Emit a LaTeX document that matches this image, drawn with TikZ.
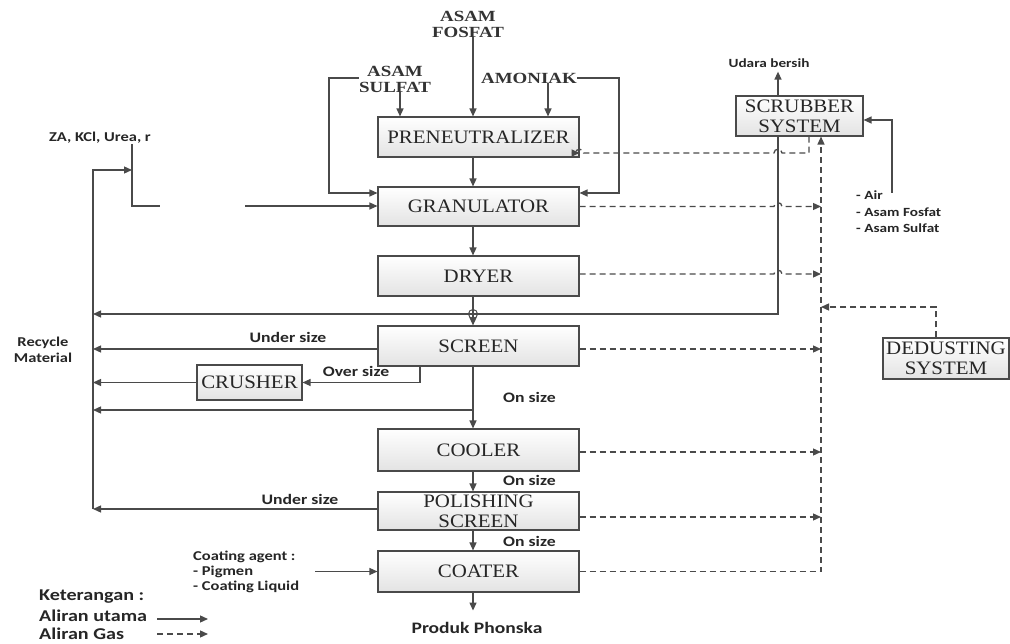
\documentclass[tikz,border=0pt]{standalone}
\usepackage{fontspec}
\setmainfont{Liberation Serif}
\newfontfamily\boxf[FakeStretch=1.1]{Liberation Serif}
\newfontfamily\lblf[FakeStretch=1.22]{Carlito}
\newfontfamily\hdrf[FakeStretch=1.22]{Liberation Serif}
\usetikzlibrary{arrows.meta}
\definecolor{ln}{HTML}{4A4A4A}
\tikzset{
 box/.style={draw=ln, line width=1.1pt, top color=white, bottom color=gray!22, minimum width=201pt, inner sep=0pt, align=center, text=black!85, font=\boxf\fontsize{19}{20}\selectfont},
 flow/.style={draw=ln, line width=1.3pt, -{Triangle[length=8pt,width=7pt]}},
 plain/.style={draw=ln, line width=1.3pt},
 gas/.style={draw=ln, line width=1.3pt, dash pattern=on 6pt off 4pt, -{Triangle[length=8pt,width=7pt]}},
 lbl/.style={font=\lblf\bfseries\fontsize{14.5}{16.5}\selectfont, inner sep=0pt, text=black!85},
 hdr/.style={font=\hdrf\bfseries\fontsize{15.5}{16}\selectfont, inner sep=0pt, align=center, text=black!80},
}
\begin{document}
\begin{tikzpicture}[x=1pt,y=-1pt]
\useasboundingbox (0,0) rectangle (1010,644);
\fill[white] (0,0) rectangle (1010,644);
% main boxes
\node[box, minimum height=40pt] (pre) at (478.5,137) {PRENEUTRALIZER};
\node[box, minimum height=39pt] (gran) at (478.5,206.5) {GRANULATOR};
\node[box, minimum height=40pt] (dry) at (478.5,276) {DRYER};
\node[box, minimum height=40pt] (scrn) at (478.5,346) {SCREEN};
\node[box, minimum width=105pt, minimum height=35pt] (crus) at (249.5,382.5) {CRUSHER};
\node[box, minimum height=42pt] (cool) at (478.5,450) {COOLER};
\node[box, minimum height=38pt] (pol) at (478.5,511) {POLISHING\\SCREEN};
\node[box, minimum height=41pt] (coat) at (478.5,571.5) {COATER};
\node[box, minimum width=127pt, minimum height=40pt] (scr) at (799.5,116) {SCRUBBER\\SYSTEM};
\node[box, minimum width=126pt, minimum height=41pt] (ded) at (946,358.5) {DEDUSTING\\SYSTEM};
% headers / labels
\node[hdr] (fos) at (468,24) {ASAM\\FOSFAT};
\node[hdr] (sul) at (395,79) {ASAM\\SULFAT};
\node[hdr] (amo) at (529,78) {AMONIAK};
\node[lbl, font=\lblf\bfseries\fontsize{13.5}{16}\selectfont] (za) at (100,138) {ZA, KCl, Urea, r};
\node[lbl, font=\lblf\bfseries\fontsize{12.5}{14}\selectfont] (udara) at (769,63) {Udara bersih};
\node[lbl, align=left, anchor=north west, font=\lblf\bfseries\fontsize{12.5}{16.5}\selectfont] (air) at (856,191) {- Air\\- Asam Fosfat\\- Asam Sulfat};
\node[lbl, align=center, font=\lblf\bfseries\fontsize{13.5}{16}\selectfont] (rec) at (43,350) {Recycle\\Material};
\node[lbl] (us1l) at (288,337) {Under size};
\node[lbl] (osl) at (356,371) {Over size};
\node[lbl, anchor=west] (on1) at (503,397) {On size};
\node[lbl, anchor=west] (on2) at (503,480) {On size};
\node[lbl, anchor=west] (on3) at (503,541) {On size};
\node[lbl] (us2l) at (300,499) {Under size};
\node[lbl, align=left, anchor=west, font=\lblf\bfseries\fontsize{13.5}{15}\selectfont] (cag) at (193,572) {Coating agent :\\- Pigmen\\- Coating Liquid};
\node[lbl, font=\lblf\bfseries\fontsize{16}{18}\selectfont] (prod) at (477,628) {Produk Phonska};
\node[lbl, anchor=west, font=\lblf\bfseries\fontsize{16.5}{18}\selectfont] (ket) at (39,597) {Keterangan :};
\node[lbl, anchor=west, font=\lblf\bfseries\fontsize{16.5}{18}\selectfont] (au) at (39,616) {Aliran utama};
\node[lbl, anchor=west, font=\lblf\bfseries\fontsize{16.5}{18}\selectfont] (ag) at (39,634) {Aliran Gas};
% coordinates
\coordinate (col) at (473,0);
\coordinate (sulx) at (400,0);
\coordinate (amx) at (548,0);
\coordinate (sx) at (778,0);
\coordinate (gx) at (821,0);
\coordinate (rtop) at (93,170);
\coordinate (zaj) at (132,206);
\coordinate (zab) at (245,206);
\coordinate (rc1) at (473,314);
\coordinate (osx) at (420,0);
\coordinate (c410) at (473,410);
\coordinate (cain) at (315,571.5);
\coordinate (airx) at (892,193);
\coordinate (dx) at (936,307);
\coordinate (spx) at (809,153);
\coordinate (l1) at (157,619);
\coordinate (l2) at (157,634);
\path ([yshift=-3pt]scrn.west) coordinate (us1);
\path ([yshift=2pt]pol.west) coordinate (pu);
\path ([yshift=13.5pt]gran.west) coordinate (gw);
\path ([yshift=13.5pt]gran.east) coordinate (ge);
\path ([yshift=-4pt]scr.east) coordinate (se);
\path ([yshift=-6pt]pol.east) coordinate (pe);
\path ([yshift=2pt]dry.east) coordinate (de);
% main flow
\draw[flow] (fos.south -| col) -- (pre.north -| col);
\draw[flow] (sul.south -| sulx) -- (pre.north -| sulx);
\draw[flow] (amo.south -| amx) -- (pre.north -| amx);
\draw[flow] ([yshift=1pt]sul.west) -- ++(-30,0) |- (gw);
\draw[flow] (amo.east) -- ++(42,0) |- (ge);
\draw[flow] (pre.south -| col) -- (gran.north -| col);
\draw[flow] (gran.south -| col) -- (dry.north -| col);
\draw[flow] (dry.south -| col) -- (scrn.north -| col);
\draw[flow] (scrn.south -| col) -- (cool.north -| col);
\draw[flow] (cool.south -| col) -- (pol.north -| col);
\draw[flow] (pol.south -| col) -- (coat.north -| col);
\draw[flow] (coat.south -| col) -- ++(0,18);
\draw[plain] (za.south -| zaj) -- (zaj) -- ++(28,0);
\draw[flow] (zab) -- (zab -| gran.west);
\draw[flow] (pu -| rtop) -- (rtop) -- (rtop -| zaj);
\draw[flow] (scr.south -| sx) |- (rc1 -| rtop);
\draw[draw=ln, line width=1pt] (rc1) circle[radius=4.5pt];
\draw[flow] (us1) -- (us1 -| rtop);
\draw[flow] (scrn.south -| osx) |- (crus.east);
\draw[flow] (crus.west) -- (crus.west -| rtop);
\draw[flow] (c410) -- (c410 -| rtop);
\draw[flow] (pu) -- (pu -| rtop);
\draw[flow] (cain) -- (coat.west);
\draw[flow] (scr.north -| sx) -- ([yshift=-4pt]udara.south -| sx);
\draw[flow] (airx) |- (se);
% gas flow
\draw[gas] (coat.east) -- (coat.east -| gx) -- (scr.south -| gx);
\path (gran.east -| sx) coordinate (h1);
\draw[gas] (gran.east) -- ([xshift=-4pt]h1) .. controls ([xshift=-4pt,yshift=5pt]h1) and ([xshift=4pt,yshift=5pt]h1) .. ([xshift=4pt]h1) -- (gran.east -| gx);
\path (de -| sx) coordinate (h2);
\draw[gas] (de) -- ([xshift=-4pt]h2) .. controls ([xshift=-4pt,yshift=5pt]h2) and ([xshift=4pt,yshift=5pt]h2) .. ([xshift=4pt]h2) -- (de -| gx);
\draw[gas] (us1 -| scrn.east) -- (us1 -| gx);
\draw[gas] ([yshift=-2pt]cool.east) -- ([yshift=-2pt]cool.east -| gx);
\draw[gas] (pe) -- (pe -| gx);
\draw[gas] (ded.north -| dx) -- (dx) -- (dx -| gx);
\path (spx -| sx) coordinate (h3);
\path (spx -| ge) coordinate (h4);
\draw[gas] (scr.south -| spx) -- (spx) -- ([xshift=4pt]h3) .. controls ([xshift=4pt,yshift=5pt]h3) and ([xshift=-4pt,yshift=5pt]h3) .. ([xshift=-4pt]h3) -- ([xshift=4pt]h4) .. controls ([xshift=4pt,yshift=5pt]h4) and ([xshift=-4pt,yshift=5pt]h4) .. ([xshift=-4pt]h4) -- (spx -| pre.east);
% legend
\draw[flow] (l1) -- ++(51,0);
\draw[gas] (l2) -- ++(51,0);
\end{tikzpicture}
\end{document}
